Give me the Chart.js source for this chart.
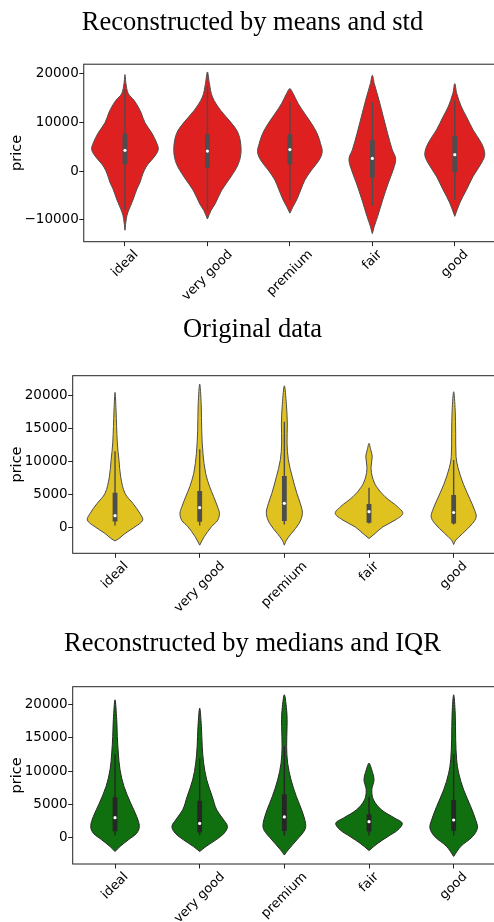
<!DOCTYPE html>
<html>
<head>
<meta charset="utf-8">
<script src="https://cdn.jsdelivr.net/npm/chart.js@4.4.1/dist/chart.umd.min.js"></script>
<style>
  html, body { margin: 0; padding: 0; background: #fff; overflow: hidden; width: 494px; height: 922px; }
  .panel { position: absolute; left: 0; }
</style>
</head>
<body>
<div class="panel" style="top:0px"><canvas id="means" width="505" height="306"></canvas></div>
<div class="panel" style="top:300px"><canvas id="original" width="505" height="322"></canvas></div>
<div class="panel" style="top:610px"><canvas id="medians" width="505" height="312"></canvas></div>
<script>
'use strict';

// categories on the x axis
const categories = ['ideal', 'very good', 'premium', 'fair', 'good'];

// violin outlines: [price, half width in category units], bottom tip to top tip

// panel 1 - reconstructed by means and std
const meansTicks = [-10000, 0, 10000, 20000];
const meansRange = [-14460, 21990];
const meansShapes = [
  [[-12100,0],[-9750,.016],[-8400,.036],[-7050,.069],[-5700,.101],[-3630,.145],[-2300,.182],[-1250,.202],[250,.236],[1450,.279],[3150,.364],[4500,.404],[5850,.384],[7900,.324],[10000,.242],[12100,.194],[13300,.158],[14600,.109],[15950,.040],[18000,.012],[19850,0]],
  [[-9800,0],[-8000,.045],[-6700,.093],[-3900,.173],[-1200,.282],[1550,.376],[4300,.408],[7700,.376],[10100,.282],[12500,.161],[15250,.061],[18000,.024],[20400,0]],
  [[-8600,0],[-7200,.040],[-5900,.081],[-3800,.133],[-1800,.182],[250,.263],[2300,.355],[4000,.392],[5700,.372],[7750,.331],[9800,.263],[11800,.182],[13900,.101],[15950,.040],[16970,0]],
  [[-12800,0],[-11300,.024],[-9300,.064],[-5900,.125],[-2400,.194],[1000,.267],[2700,.282],[4400,.242],[7800,.185],[11200,.133],[14600,.081],[18000,.024],[19700,0]],
  [[-9250,0],[-6500,.061],[-3800,.142],[-1050,.222],[1700,.324],[3500,.364],[5750,.324],[8500,.222],[11200,.142],[13200,.081],[15950,.024],[18000,0]]
];
const meansLo = [-7900, -8000, -5950, -7100, -5900];
const meansQ1 = [1450, 750, 1370, -1300, -140];
const meansMed = [4300, 4150, 4450, 2650, 3420];
const meansQ3 = [7700, 7600, 7600, 6360, 7250];
const meansHi = [16800, 17500, 14230, 14200, 14600];

// panel 2 - original data
const origTicks = [0, 5000, 10000, 15000, 20000];
const origRange = [-3880, 23030];
const origShapes = [
  [[-2000,0],[-1640,.047],[-880,.118],[130,.236],[1140,.327],[2150,.295],[3650,.213],[5200,.118],[7700,.067],[10200,.047],[12840,.027],[17800,.012],[20500,0]],
  [[-2650,0],[-1380,.053],[130,.138],[1140,.213],[2150,.233],[3100,.213],[4700,.165],[6200,.118],[8200,.071],[11200,.039],[14700,.024],[18700,.018],[21770,0]],
  [[-2650,0],[-1890,.024],[-880,.083],[650,.174],[2150,.213],[3650,.189],[5200,.148],[7700,.094],[10300,.047],[12840,.032],[15700,.035],[18700,.024],[21500,0]],
  [[-1640,0],[-880,.071],[130,.165],[1140,.307],[2150,.399],[3150,.339],[4700,.189],[6200,.089],[7700,.039],[9100,.024],[10800,.038],[11800,.020],[12780,0]],
  [[-2550,0],[-1890,.024],[-880,.106],[650,.224],[1640,.266],[2650,.248],[4200,.197],[6600,.115],[9100,.051],[10800,.028],[14300,.024],[17800,.018],[20600,0]]
];
const origLo = [330, 330, 490, 650, 490];
const origQ1 = [950, 910, 1010, 760, 650];
const origMed = [1820, 3030, 3690, 2420, 2300];
const origQ3 = [5300, 5560, 7830, 3590, 4950];
const origHi = [11600, 11870, 16060, 6060, 10250];

// panel 3 - reconstructed by medians and IQR
const medTicks = [0, 5000, 10000, 15000, 20000];
const medRange = [-3940, 22640];
const medShapes = [
  [[-2070,0],[-1320,.059],[-320,.157],[680,.256],[1680,.287],[3180,.256],[5180,.185],[7680,.106],[10180,.059],[12680,.039],[15180,.027],[17700,.020],[20680,0]],
  [[-2070,0],[-1320,.074],[-320,.192],[680,.289],[1680,.328],[2680,.283],[4180,.201],[6180,.148],[8680,.083],[11180,.047],[13680,.030],[16680,.020],[19430,0]],
  [[-2600,0],[-1820,.045],[-320,.148],[1180,.242],[2180,.250],[4180,.204],[6180,.142],[8680,.079],[11180,.039],[13680,.027],[16680,.032],[18700,.030],[21430,0]],
  [[-1920,0],[-820,.106],[180,.224],[1180,.342],[2180,.393],[2930,.305],[4180,.148],[5680,.053],[7180,.033],[8680,.059],[10180,.032],[11170,0]],
  [[-2800,0],[-1320,.083],[180,.224],[1430,.280],[2680,.260],[4680,.201],[7180,.118],[9680,.059],[11680,.035],[14680,.024],[18700,.018],[21430,0]]
];
const medLo = [330, 330, 330, 330, 330];
const medQ1 = [960, 800, 1000, 930, 1060];
const medMed = [3010, 2150, 3110, 2400, 2660];
const medQ3 = [6060, 5560, 6510, 3510, 5660];
const medHi = [12500, 11900, 13770, 6160, 12500];


// frame around the plot + rotated x labels centred on the tick like matplotlib
const framePlugin = {
  id: 'frame',
  afterDraw(chart) {
    const ctx = chart.ctx;
    const a = chart.chartArea;
    ctx.save();
    ctx.strokeStyle = '#222';
    ctx.lineWidth = 1;
    ctx.strokeRect(a.left, a.top, a.right - a.left, a.bottom - a.top);

    const xs = chart.scales.x;
    ctx.font = '13px "DejaVu Sans"';
    ctx.fillStyle = '#000';
    ctx.textAlign = 'center';
    ctx.textBaseline = 'middle';
    xs.ticks.forEach(t => {
      let w = ctx.measureText(t.label).width;
      let side = (w + 15) * Math.SQRT1_2;
      let cx = xs.getPixelForValue(t.value);
      let cy = a.bottom + 5.5 + side / 2;
      ctx.save();
      ctx.translate(cx, cy);
      ctx.rotate(-Math.PI / 4);
      ctx.fillText(t.label, 0, 0);
      ctx.restore();
    });
    ctx.restore();
  }
};

function makeDatasets(shapes, lo, q1, med, q3, hi, fillColor, lineColor) {
  let sets = [];
  shapes.forEach((shape, i) => {
    // up the right side, back down the left side
    let right = shape.map(p => ({x: i + p[1], y: p[0]}));
    let left = shape.slice(0, -1).reverse().map(p => ({x: i - p[1], y: p[0]}));
    sets.push({
      data: right.concat(left),
      showLine: true,
      fill: 'shape',
      backgroundColor: fillColor,
      borderColor: lineColor,
      borderWidth: 1,
      pointRadius: 0,
      tension: 0.35,
      order: 3
    });
    sets.push({
      data: [{x: i, y: lo[i]}, {x: i, y: hi[i]}],
      showLine: true,
      borderColor: lineColor,
      borderWidth: 1.4,
      pointRadius: 0,
      order: 2
    });
    sets.push({
      data: [{x: i, y: q1[i]}, {x: i, y: q3[i]}],
      showLine: true,
      borderColor: lineColor,
      borderWidth: 4.8,
      pointRadius: 0,
      order: 1
    });
    sets.push({
      data: [{x: i, y: med[i]}],
      pointRadius: 1.6,
      pointBackgroundColor: '#fff',
      pointBorderWidth: 0,
      order: 0
    });
  });
  return sets;
}

function priceLabel(v) {
  return v < 0 ? '\u2212' + Math.abs(v) : String(v);
}

function makePanel(id, title, titlePad, plotLeft, xHeight, range, ticks, datasets) {
  return new Chart(document.getElementById(id), {
    type: 'scatter',
    data: {datasets: datasets},
    options: {
      responsive: false,
      animation: false,
      layout: {padding: {left: 9, right: 9, top: 0, bottom: 0}},
      plugins: {
        legend: {display: false},
        tooltip: {enabled: false},
        title: {
          display: true,
          text: title,
          color: '#000',
          font: {family: '"Liberation Serif", "Times New Roman", serif', size: 26.5, weight: 'normal', lineHeight: 1.2},
          padding: titlePad
        }
      },
      scales: {
        x: {
          type: 'linear',
          min: -0.5,
          max: 4.5,
          afterBuildTicks: s => { s.ticks = categories.map((c, i) => ({value: i})); },
          afterFit: s => { s.height = xHeight; },
          ticks: {display: false, callback: v => categories[v]},
          grid: {drawOnChartArea: false, tickLength: 4.5, color: '#222', lineWidth: 1},
          border: {display: false}
        },
        y: {
          min: range[0],
          max: range[1],
          afterBuildTicks: s => { s.ticks = ticks.map(v => ({value: v})); },
          afterFit: s => { s.width = plotLeft - 9; },
          ticks: {
            color: '#000',
            padding: 0.5,
            font: {family: '"DejaVu Sans"', size: 13.5},
            callback: v => priceLabel(v)
          },
          title: {
            display: true,
            text: 'price',
            color: '#000',
            padding: 0,
            font: {family: '"DejaVu Sans"', size: 14.5}
          },
          grid: {drawOnChartArea: false, tickLength: 4.5, color: '#222', lineWidth: 1},
          border: {display: false}
        }
      }
    },
    plugins: [framePlugin]
  });
}

makePanel('means', 'Reconstructed by means and std', {top: 7, bottom: 25.4}, 83.75, 64.3,
  meansRange, meansTicks,
  makeDatasets(meansShapes, meansLo, meansQ1, meansMed, meansQ3, meansHi, '#df2020', '#4d4d4d'));

makePanel('original', 'Original data', {top: 14.4, bottom: 29.5}, 72.7, 68.7,
  origRange, origTicks,
  makeDatasets(origShapes, origLo, origQ1, origMed, origQ3, origHi, '#dfc120', '#4d4d4d'));

makePanel('medians', 'Reconstructed by medians and IQR', {top: 18.4, bottom: 26.5}, 72.7, 58,
  medRange, medTicks,
  makeDatasets(medShapes, medLo, medQ1, medMed, medQ3, medHi, '#107010', '#262626'));
</script>
</body>
</html>
